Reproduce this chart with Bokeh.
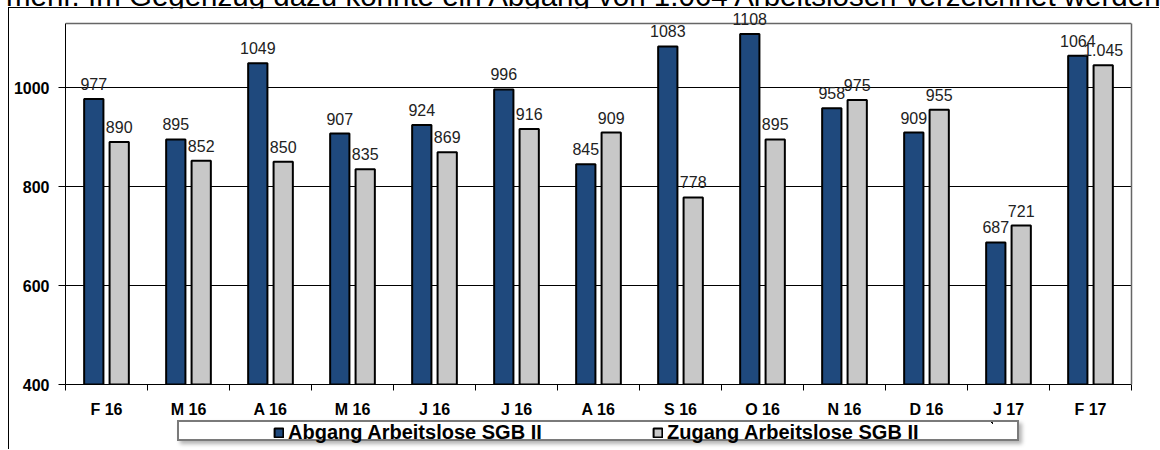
from bokeh.plotting import figure
from bokeh.models import (ColumnDataSource, FixedTicker, Range1d, LabelSet, Legend,
                          LegendItem, Div, LinearAxis, Span)
from bokeh.core.properties import value
from bokeh.transform import dodge
from bokeh.layouts import column
from bokeh.embed import file_html
from bokeh.resources import INLINE

# ---- data ----
months = ["F 16", "M 16", "A 16", "M 16", "J 16", "J 16", "A 16",
          "S 16", "O 16", "N 16", "D 16", "J 17", "F 17"]
abgang = [977, 895, 1049, 907, 924, 996, 845, 1083, 1108, 958, 909, 687, 1064]
zugang = [890, 852, 850, 835, 869, 916, 909, 778, 895, 975, 955, 721, 1045]
abgang_labels = [str(v) for v in abgang]
zugang_labels = [str(v) for v in zugang]
zugang_labels[-1] = f"{zugang[-1]:,}".replace(",", ".")
y_ticks = [400, 600, 800, 1000]
series_names = ["Abgang Arbeitslose SGB II", "Zugang Arbeitslose SGB II"]
header_text = "mehr. Im Gegenzug dazu konnte ein Abgang von 1.064 Arbeitslosen verzeichnet werden."

FONT = "Liberation Sans"
BLUE = "#1F497D"
GREY = "#C8C8C8"
BORDER = "#666666"

Y_MIN = 400
AREA_TOP = Y_MIN + 361 / 0.495    # top edge of the plot area box
FRAME_TOP = Y_MIN + 376 / 0.495   # frame reaches higher so labels are not clipped

xs = list(range(len(months)))
source = ColumnDataSource(dict(x=xs, abgang=abgang, zugang=zugang,
                               al=abgang_labels, zl=zugang_labels))

# ---- main chart ----
p = figure(width=1151, height=442, title=None,
           x_range=Range1d(-0.5, len(months) - 0.5),
           y_range=Range1d(Y_MIN, FRAME_TOP),
           output_backend="svg", toolbar_location=None,
           min_border_left=56, min_border_right=29,
           min_border_top=0, min_border_bottom=66,
           margin=(0, 0, 0, 8))
p.styles = {"border-left": "1px solid #000", "border-top": "1px solid #000"}

p.outline_line_color = None
p.xgrid.grid_line_color = None
p.ygrid.grid_line_color = "#000000"
p.ygrid.grid_line_width = 1

off = 0.155
bw = 0.235
bar_a = dict(fill_color=BLUE, line_color="#000000", line_width=2)
bar_z = dict(fill_color=GREY, line_color="#000000", line_width=2)
p.vbar(x=dodge("x", -off), top="abgang", bottom=Y_MIN, width=bw, source=source, **bar_a)
p.vbar(x=dodge("x", off), top="zugang", bottom=Y_MIN, width=bw, source=source, **bar_z)

# plot-area border: top line + right axis line
p.add_layout(Span(location=AREA_TOP, dimension="width", line_color=BORDER,
                  line_width=1.5, level="underlay"))
ra = LinearAxis(ticker=FixedTicker(ticks=[]), bounds=(Y_MIN, AREA_TOP),
                axis_line_color=BORDER, axis_line_width=1.5,
                major_tick_line_color=None, minor_tick_line_color=None,
                major_label_text_color=None, major_label_text_font_size="1px")
p.add_layout(ra, "right")

for col, txt, dx in (("abgang", "al", -off), ("zugang", "zl", off)):
    ls = LabelSet(x=dodge("x", dx), y=col, text=txt, source=source,
                  text_align="center", text_baseline="alphabetic", y_offset=9,
                  text_font=value(FONT), text_font_size="16px", text_color="#222222")
    p.add_layout(ls)

xa = p.xaxis[0]
xa.ticker = FixedTicker(ticks=xs, minor_ticks=[i - 0.5 for i in range(len(months) + 1)])
xa.major_label_overrides = {i: m for i, m in enumerate(months)}
xa.major_tick_line_color = None
xa.major_tick_out = 0
xa.major_tick_in = 0
xa.minor_tick_line_color = "#000000"
xa.minor_tick_out = 6
xa.minor_tick_in = 0
xa.axis_line_color = "#000000"
xa.major_label_standoff = 10
xa.major_label_text_font = FONT
xa.major_label_text_font_size = "16px"
xa.major_label_text_font_style = "bold"
xa.major_label_text_color = "#000000"

ya = p.yaxis[0]
ya.ticker = FixedTicker(ticks=y_ticks)
ya.bounds = (Y_MIN, AREA_TOP)
ya.minor_tick_line_color = None
ya.major_tick_out = 7
ya.major_tick_in = 0
ya.major_tick_line_color = "#000000"
ya.axis_line_color = "#000000"
ya.major_label_standoff = 9
ya.major_label_text_font = FONT
ya.major_label_text_font_size = "16px"
ya.major_label_text_font_style = "bold"
ya.major_label_text_color = "#000000"

# ---- legend box (small figure overlapping the bottom of the chart) ----
# its own copies of the bar renderers lie outside its ranges; only the legend shows
pl = figure(width=842, height=21, x_range=Range1d(-50, -49), y_range=Range1d(-50, -49),
            output_backend="svg", toolbar_location=None, title=None,
            x_axis_location=None, y_axis_location=None,
            min_border=0, margin=(-29, 0, 0, 177))
pl.styles = {"border": "2px solid #7a7a7a",
             "box-shadow": "3px 3px 4px rgba(0,0,0,0.30)"}
pl.outline_line_color = None
pl.grid.grid_line_color = None
la = pl.vbar(x="x", top="abgang", bottom=Y_MIN, width=bw, source=source, **bar_a)
lz = pl.vbar(x="x", top="zugang", bottom=Y_MIN, width=bw, source=source, **bar_z)
legend = Legend(items=[LegendItem(label=series_names[0], renderers=[la]),
                       LegendItem(label=series_names[1], renderers=[lz])],
                orientation="horizontal", location=(38, -1),
                padding=0, margin=0, spacing=0,
                glyph_width=11, glyph_height=11, label_standoff=4,
                label_width=364, label_height=11,
                label_text_font=FONT, label_text_font_size="20px",
                label_text_font_style="bold", label_text_color="#000000",
                border_line_color=None, background_fill_alpha=0)
pl.add_layout(legend)

header = Div(text=('<div style="font-family:\'Liberation Sans\',Arial,sans-serif;'
                   'font-size:29.5px;line-height:23px;white-space:nowrap;'
                   'padding-left:6px;color:#000">' + header_text + '</div>'),
             width=1160, height=23, margin=(-16, 0, 0, 0),
             styles={"overflow": "visible"})

layout = column(header, p, pl, spacing=0)
open("out.html", "w").write(file_html(layout, INLINE))
